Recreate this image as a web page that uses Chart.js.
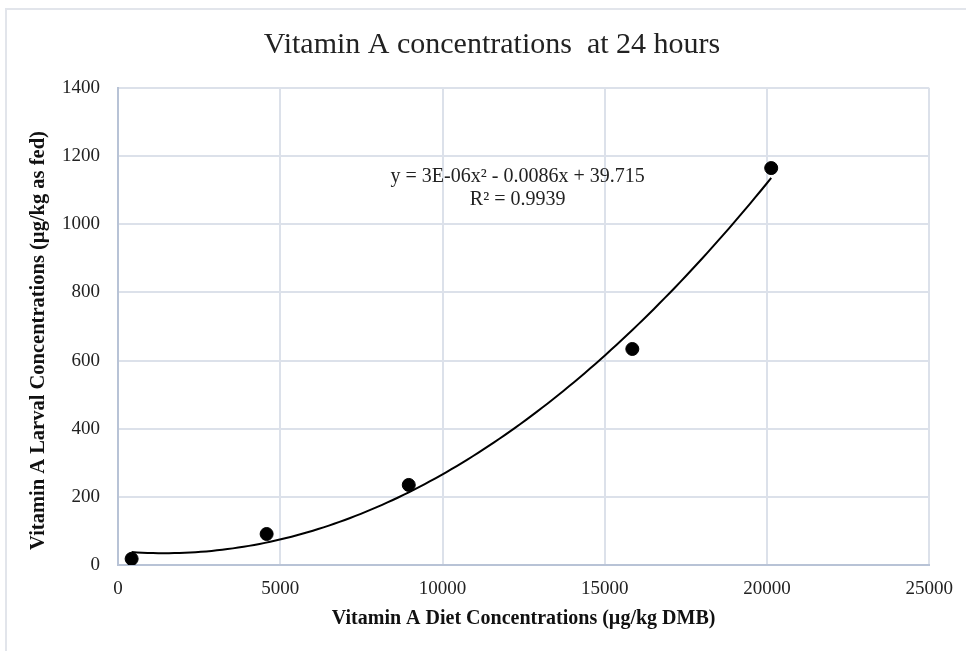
<!DOCTYPE html>
<html><head><meta charset="utf-8">
<script src="https://cdn.jsdelivr.net/npm/chart.js@4/dist/chart.umd.min.js"></script>
<style>
html,body{margin:0;padding:0;background:#fff;}
#wrap{position:relative;width:966px;height:651px;overflow:hidden;}
#frame{position:absolute;left:5px;top:8px;width:1000px;height:700px;border-left:2px solid #E2E5EB;border-top:2px solid #E2E5EB;}
canvas{position:absolute;left:0;top:0;}
</style></head><body>
<div id="wrap"><div id="frame"></div><canvas id="c" width="966" height="651"></canvas></div>
<script>
// ---- data ----
const chartTitle = 'Vitamin A concentrations  at 24 hours';
const xAxisTitle = 'Vitamin A Diet Concentrations (µg/kg DMB)';
const yAxisTitle = 'Vitamin A Larval Concentrations (µg/kg as fed)';
const dietConc = [420, 4580, 8960, 15850, 20130];
const larvalConc = [18, 91, 235, 634, 1165];
const xTicks = [0, 5000, 10000, 15000, 20000, 25000];
const yTicks = [0, 200, 400, 600, 800, 1000, 1200, 1400];
const trendEquation = 'y = 3E-06x² - 0.0086x + 39.715';
const trendR2 = 'R² = 0.9939';

// ---- quadratic least-squares trendline from the data ----
function fitQuadratic(xs, ys) {
  const s = 1e4;
  let S = [0,0,0,0,0], T = [0,0,0];
  for (let i = 0; i < xs.length; i++) {
    const x = xs[i] / s, y = ys[i];
    for (let k = 0; k < 5; k++) S[k] += Math.pow(x, k);
    for (let k = 0; k < 3; k++) T[k] += y * Math.pow(x, k);
  }
  const M = [[S[0],S[1],S[2],T[0]],[S[1],S[2],S[3],T[1]],[S[2],S[3],S[4],T[2]]];
  for (let c = 0; c < 3; c++) {
    for (let r = c + 1; r < 3; r++) {
      const f = M[r][c] / M[c][c];
      for (let k = c; k < 4; k++) M[r][k] -= f * M[c][k];
    }
  }
  const b = [0,0,0];
  for (let r = 2; r >= 0; r--) {
    let v = M[r][3];
    for (let k = r + 1; k < 3; k++) v -= M[r][k] * b[k];
    b[r] = v / M[r][r];
  }
  return x => b[0] + b[1] * (x / s) + b[2] * (x / s) * (x / s);
}
const trendFn = fitQuadratic(dietConc, larvalConc);
const xMin = Math.min(...dietConc), xMax = Math.max(...dietConc);
const trendPoints = [];
for (let i = 0; i <= 120; i++) {
  const x = xMin + (xMax - xMin) * i / 120;
  trendPoints.push({x: x, y: trendFn(x)});
}

const serif = '"Liberation Serif", "Times New Roman", serif';
const AREA = {left: 118, right: 930, top: 88, bottom: 565};

const layoutFix = {
  id: 'layoutFix',
  afterLayout(chart) {
    if (chart.titleBlock) { chart.titleBlock.left = 6; chart.titleBlock.right = 978; }
    const ys = chart.scales.y;
    if (ys && !ys._shifted) {
      ys._shifted = true;
      const proto = Object.getPrototypeOf(ys);
      ys.drawTitle = function () {
        this.ctx.save();
        this.ctx.translate(0, 14);
        proto.drawTitle.call(this);
        this.ctx.restore();
      };
    }
  }
};
const eqLabel = {
  id: 'eqLabel',
  afterDatasetsDraw(chart) {
    const ctx = chart.ctx, a = chart.chartArea;
    const cx = a.left + (a.right - a.left) * 0.4926;
    const y1 = a.top + (a.bottom - a.top) * 0.1866;
    const y2 = a.top + (a.bottom - a.top) * 0.2348;
    ctx.save();
    ctx.font = '20px ' + serif;
    ctx.fillStyle = '#222';
    ctx.textAlign = 'center';
    ctx.textBaseline = 'middle';
    ctx.fillText(trendEquation, cx, y1);
    ctx.fillText(trendR2, cx, y2);
    ctx.restore();
  }
};

new Chart(document.getElementById('c'), {
  type: 'scatter',
  data: {
    datasets: [
      {
        label: 'Larval concentration',
        data: dietConc.map((x, i) => ({x: x, y: larvalConc[i]})),
        backgroundColor: '#000',
        borderColor: '#000',
        pointRadius: 6.5,
        pointHoverRadius: 6.5,
        order: 1
      },
      {
        type: 'line',
        label: 'Poly. trend',
        data: trendPoints,
        borderColor: '#000',
        borderWidth: 2,
        pointRadius: 0,
        fill: false,
        tension: 0,
        order: 2
      }
    ]
  },
  options: {
    responsive: false,
    animation: false,
    devicePixelRatio: 1,
    layout: {padding: {left: 0, right: 966 - AREA.right - 3, top: 0, bottom: 0}},
    plugins: {
      legend: {display: false},
      tooltip: {enabled: false},
      title: {
        display: true,
        text: chartTitle,
        color: '#222',
        font: {family: serif, size: 30, weight: 'normal', lineHeight: 1.2},
        padding: {top: 27, bottom: 25}
      }
    },
    scales: {
      x: {
        type: 'linear',
        min: 0, max: 25000,
        afterBuildTicks(s) { s.ticks = xTicks.map(v => ({value: v})); },
        afterFit(s) { s.height = 651 - AREA.bottom; },
        grid: {color: '#DCE1EA', lineWidth: 2, drawTicks: false},
        border: {color: '#B8C3D6', width: 2},
        ticks: {color: '#222', font: {family: serif, size: 19}, padding: 13, maxRotation: 0,
                callback: v => String(v)},
        title: {display: true, text: xAxisTitle, color: '#111',
                font: {family: serif, size: 20, weight: 'bold'}, padding: {top: 0, bottom: 20}}
      },
      y: {
        type: 'linear',
        min: 0, max: 1400,
        afterBuildTicks(s) { s.ticks = yTicks.map(v => ({value: v})); },
        afterFit(s) { s.width = AREA.left; },
        grid: {color: '#DCE1EA', lineWidth: 2, drawTicks: false},
        border: {color: '#B8C3D6', width: 2},
        ticks: {color: '#222', font: {family: serif, size: 19}, padding: 18,
                callback: v => String(v)},
        title: {display: true, text: yAxisTitle, color: '#111',
                font: {family: serif, size: 20.5, weight: 'bold'}, padding: {top: 26, bottom: 0}}
      }
    }
  },
  plugins: [layoutFix, eqLabel]
});
</script>
</body></html>
